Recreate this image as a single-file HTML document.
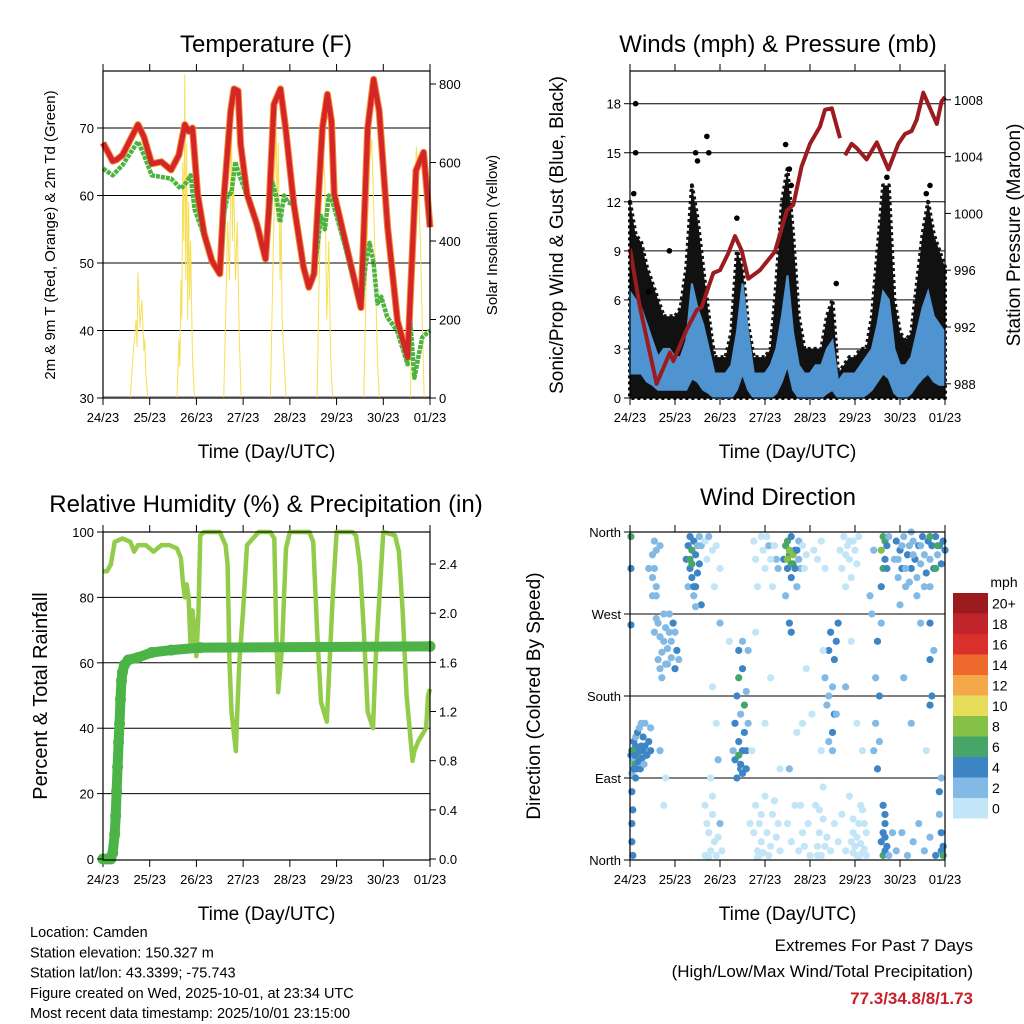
<!DOCTYPE html>
<html><head><meta charset="utf-8"><style>
html,body{margin:0;padding:0;background:#fff;width:1024px;height:1024px;overflow:hidden}
svg{display:block;font-family:"Liberation Sans",Arial,sans-serif}
</style></head><body>
<svg id="c" width="1024" height="1024" viewBox="0 0 1024 1024"></svg>
<script>
// ---------- DATA ----------
const dayLabels=["24/23","25/23","26/23","27/23","28/23","29/23","30/23","01/23"];
const tempHours=[0,5,7,10,18,21,25,30,35,39,42,44,46,48.6,52,56,60,62,65.6,67.3,69.4,70.7,74,79,83.5,85.3,87.8,91.2,93.8,98,103,105.8,108.4,112.7,115.3,117.4,118.8,125.6,132.5,136,139,141.9,146.2,151.3,156.5,160.8,164.7,168];
const tempValues=[67.8,65.1,65.3,66,70.5,68.7,64.7,65,63.8,66,70.5,69.5,70,60.2,54.3,50.3,48.4,59.3,72.6,75.8,75.5,67.6,60.2,55.8,50.6,58.2,73.5,75.8,70,58.7,49.4,46.4,48.4,70,75,71,60.2,51.8,43.4,70,77.2,72.5,55.3,41.4,36,63.7,66.4,55.3];
const dewHours=[0,5,10,18,21,25,35,40,43,45,47,52,56,60,62,64,66,68,70,74,79,83.5,85,87,89,91,93,95,98,103,105.8,108,110,112,114,116,118,125,132.5,135,137,139,141,143,146,151,156.5,158,160,162,164,168];
const dewValues=[64,63,64.5,68,66,63,62.5,61,62,63,58,54,50.3,48.4,57,60,60.5,65,63,60,55.8,50.6,56,62,60,56,60,59,58.7,49.4,46.4,48,52,57,55,60,59,51.8,43.4,50,53,50,44,45,42,40,35,41,33,36,39,40];
const solarHours=[0,14,15,16,17,17.5,18,19,20,21,21.5,22,23,38,39,39.5,40,40.5,41,41.5,42,42.5,43,43.5,44,44.5,45,46,47,62,63,64,65,66,66.5,67,68,69,70,71,86,87,88,89,89.5,90,91,91.5,92,94,110,111,112,113,114,115,116,117,118,134,135,136,137,138,139,140,141,142,158,159,160,161,162,163,164,165,168];
const solarValues=[0,0,80,140,200,130,320,180,250,120,150,60,0,0,150,80,300,200,600,400,825,300,650,200,500,250,400,100,0,0,200,450,300,720,400,600,300,450,150,0,0,250,500,700,450,650,300,500,200,0,0,300,500,640,550,200,400,100,0,0,250,450,600,660,500,300,100,0,0,300,500,640,560,400,200,0,0];

const presHours=[0,5.3,14.2,21.3,23.1,30.2,35.6,38.2,44.4,48,52.4,56,59.5,63.1,69.3,77.3,83.6,87.1,91.5,96,101.3,104,107.6,112];
const presValues=[997.5,993.4,988,990.2,989.6,991.8,993.2,993.4,995.8,996,997.2,998.4,997.4,995.4,996,997.3,1000.2,1000.6,1003.3,1004.9,1006.1,1007.3,1007.4,1005.3];
const pres2Hours=[114.7,118.2,120.9,126.2,131.6,137.8,143.1,146.7,150.2,152.9,156.4,163.6,166.2,168];
const pres2Values=[1004.1,1004.9,1004.6,1003.8,1005,1003.1,1004.9,1005.6,1005.8,1006.6,1008.5,1006.3,1007.9,1008.2];
const windHours=[0,3,6,9,12,15,18,21,24,27,30,33,36,39,42,45,48,51,54,57,60,63,66,69,72,75,78,81,84,87,90,93,96,99,102,105,108,111,114,117,120,123,126,129,132,135,138,141,144,147,150,153,156,159,162,165,168];
const speedHigh=[6.5,6,5.5,4.5,3.5,2.5,3,3,2.5,2.5,3.5,7,5.5,4.5,3,1.5,1.5,1.5,2,4,7,4,1.5,1.5,1.5,2,3,5,7.5,4,2,1.5,1.5,2,2,3,3.5,1,1.5,1.5,1.5,2,2.5,3,4.5,6.5,6,3,2,2,2.5,4,5.5,6.5,5,4.5,4];
const speedLow=[1.5,1.5,1.5,1,0.8,0.5,0.5,0.5,0.5,0.5,0.5,1.2,1,0.5,0.3,0,0,0,0,0.5,1.5,0.5,0,0,0,0,0.3,1,2,0.5,0,0,0,0,0,0.3,0.5,0,0,0,0,0,0.2,0.5,1,1.5,1.2,0.3,0,0,0.3,0.8,1.2,1.5,1,0.8,0.8];
const gustHigh=[12,10,9.5,8,7,6,5,5,5,5.5,8,13,11,8,5,2.5,2.5,2.5,4,9,8,4.5,2.5,2.5,2.5,3,7,12,14,10,5,3,3,3,3,5,6,1.5,2,2.5,2.5,3,3,5,9,13,13,6,4,3.5,4,7,10,12,10,9,8];
const gustOutliers=[[3,18],[3,15],[10,6.5],[21,9],[41,16],[42,15],[57,11],[83,15.5],[110,7],[137,13.5],[160,13],[2,12.5],[35,15],[36,14.5],[85,14],[86,13],[158,12.5]];

const rhHours=[0,2,4,6,10,14,16,18,22,26,30,34,38,40,41,42,43,44,45,46,47,48,49,50,52,56,60,63,64,65,66,68.3,69,70,72,74,80,86,88,89,90,92,93,94,96,106,108,110,112,115,116,118,120,128,130,132,134,136,138.7,140,142,144,150,152,154,156,159,160,162,164,166,167,168];
const rhValues=[88,88,90,97,98,97,94,96,96,94,96,96,95,92,85,80,84,80,65,76,70,62,75,99,100,100,100,96,90,60,45,33,45,60,76,96,100,100,98,70,51,65,80,95,100,100,97,70,48,42,55,80,100,100,99,90,70,45,40,60,80,100,99,94,75,50,30,33,36,38,40,50,52];
const rainHours=[0,2,4,5,6,6.5,7,7.5,8,8.5,9,9.5,10,11,13,18,25,35,50,168];
const rainValues=[0,0,0,0.05,0.2,0.35,0.55,0.75,0.95,1.1,1.3,1.45,1.52,1.58,1.62,1.64,1.68,1.7,1.72,1.73];

const dirPoints=[[0.5,115,4],[1,120,5],[1.5,110,3],[2,130,4],[2.5,105,6],[3,125,4],[3,135,3],[3.5,100,5],[4,115,7],[4,140,4],[4.5,108,5],[5,120,4],[5,145,3],[5.5,100,4],[6,125,5],[6,150,3],[6.5,112,4],[7,120,5],[7,135,4],[7.5,105,3],[8,125,4],[8,150,3],[9,115,4],[10,130,4],[11,120,4],[11,145,3],[1,95,3],[2,100,4],[3,90,4],[1,75,4],[1.5,55,4],[1,40,4],[1,20,4],[1.5,5,4],[0.5,355,7],[0.5,320,4],[1.5,120,6],[2.5,115,5],[0.5,258,4],
[12,290,2],[13,250,2],[14,265,2],[15,220,2],[15,260,2],[16,245,2],[16,210,3],[17,228,2],[17,200,3],[18,240,3],[18,270,2],[19,215,2],[19,255,3],[20,232,2],[21,250,2],[20,215,3],[22,222,3],[22,240,2],[24,210,4],[25,230,4],[24,250,3],[23,260,4],[26,220,2],[21,270,3],[13,320,2],[14,300,2],[14,340,2],[12,335,2],[16,345,3],[12,310,2],[13,350,2],[14,290,2],[16,120,2],[19,90,1],[18,60,1],[10,320,2],
[30,330,4],[31,345,5],[31,300,3],[32,355,4],[32,320,5],[33,340,6],[33,310,4],[34,350,5],[34,290,3],[35,335,4],[35,300,5],[36,345,3],[36,315,4],[37,355,3],[37,325,4],[38,345,3],[38,280,4],[32,330,7],[33,325,7],[34,300,4],[35,278,3],
[40,350,1],[41,330,1],[42,355,2],[44,340,1],[45,300,1],[46,345,1],[48,320,1],[40,60,1],[42,30,1],[43,10,1],[44,50,1],[45,20,1],[46,5,1],[48,40,2],[47,110,2],[43,90,1],[46,150,1],[40,5,1],[41,40,1],[42,3,1],[44,70,1],[47,25,1],[49,10,1],[48,260,2],[44,190,1],
[55,120,3],[56,150,4],[57,90,4],[57,180,5],[58,130,4],[58,200,6],[59,100,4],[59,160,3],[60,210,4],[60,120,5],[61,140,4],[61,100,3],[62,185,3],[62,100,4],[63,150,3],[63,230,3],[58,230,4],[60,240,2],[61,170,6],[64,40,1],[56,110,4],[59,105,5],[60,95,4],[62,120,4],[58,115,6],[53,240,1],
[66,350,1],[67,330,1],[68,300,1],[70,355,1],[71,340,1],[72,320,1],[74,345,2],[76,300,1],[78,330,2],[66,30,1],[67,60,1],[68,10,1],[69,40,1],[70,20,1],[72,70,1],[74,5,1],[76,50,1],[78,25,1],[65,120,1],[72,150,1],[75,200,1],[80,100,1],[67,250,1],[68,3,1],[69,5,1],[70,50,1],[71,8,1],[73,30,1],[75,15,1],[77,65,1],[79,40,1],[80,10,1],[73,355,1],[75,330,1],[77,345,1],[79,320,2],
[82,330,4],[83,345,7],[84,320,5],[84,350,6],[85,335,7],[86,310,4],[86,355,5],[87,325,6],[88,340,4],[89,300,3],[90,350,3],[91,320,2],[83,290,3],[84,40,1],[86,20,1],[88,60,1],[90,10,1],[92,30,1],[85,100,2],[89,140,1],[85,260,4],[86,250,4],[84,330,8],[85,340,8],[86,325,7],[87,335,8],[88,320,5],[89,340,5],[90,330,2],[92,345,1],[93,320,1],[94,335,1],[91,60,1],[93,15,1],[95,40,1],[96,5,1],[92,150,1],[94,210,1],
[104,200,2],[105,170,3],[106,230,4],[106,130,3],[107,250,4],[108,190,3],[108,140,4],[109,220,4],[109,160,4],[110,160,3],[111,260,4],[108,120,2],[110,240,4],[106,180,2],[100,15,1],[101,30,1],[102,5,1],[103,45,1],[104,15,1],[105,25,1],[107,10,1],[109,40,1],[99,60,1],[100,5,1],[101,55,1],[103,80,1],[98,340,1],[100,330,1],[102,350,1],[104,320,1],[97,160,1],[102,120,1],[103,230,1],
[112,340,1],[113,320,1],[114,355,1],[115,300,1],[116,345,1],[117,330,1],[118,310,1],[119,350,1],[120,340,1],[121,325,1],[122,355,1],[115,335,1],[117,350,1],[111,20,1],[113,50,1],[115,10,1],[117,70,1],[119,30,1],[121,5,1],[123,60,1],[125,40,1],[115,190,2],[118,240,1],[121,150,1],[124,120,1],[119,8,1],[120,15,1],[121,25,1],[122,3,1],[123,18,1],[124,8,1],[125,12,1],[126,30,1],[118,20,1],[119,45,1],[122,40,1],[124,55,1],[126,5,1],
[130,120,3],[131,150,3],[131,200,3],[132,100,4],[132,240,4],[133,130,3],[133,180,4],[134,260,3],[130,340,3],[128,290,3],[129,270,3],
[134,340,8],[135,355,7],[135,320,6],[136,350,7],[136,330,4],[134,300,4],[137,345,5],[137,320,4],[138,355,3],[134,20,4],[135,5,6],[135,30,4],[136,10,5],[136,50,4],[137,15,4],[136,40,4],[135,60,4],[136,25,4],[138,5,2],[140,30,2],[141,330,3],
[142,350,4],[143,310,3],[144,340,4],[145,320,4],[146,355,3],[147,300,3],[148,335,4],[149,345,3],[150,320,4],[151,350,3],[152,330,4],[153,310,3],[154,345,4],[155,325,3],[156,355,4],[157,335,3],[158,315,4],[159,350,5],[160,330,3],[161,345,4],[162,320,4],[163,355,5],[164,335,3],[165,345,4],[166,325,5],[167,350,4],[168,340,5],[143,330,2],[145,345,2],[147,320,2],[149,305,2],[151,335,2],[153,290,2],[155,345,2],[157,300,2],[150,360,2],[160,355,6],[164,345,7],[163,320,6],
[142,10,2],[145,30,3],[148,5,2],[151,20,3],[154,40,2],[157,10,3],[160,25,2],[163,5,4],[165,50,3],[167,15,4],[146,200,2],[150,150,2],[155,260,2],[158,120,1],[162,230,2],[166,90,2],[144,280,2],[160,300,3],[160,260,4],[160,220,4],[161,180,4],[160,170,4],[165,75,4],[166,30,5],[166,10,4],[167,5,6]];
const legendLabels=["20+","18","16","14","12","10","8","6","4","2","0"];
const legendColors=["#9b1b1e","#c1242b","#d9302b","#ee6a2c","#f5a849","#e6de5a","#86c147","#47a56a","#3e85c5","#82bae5","#c3e5f8"];

// ---------- HELPERS ----------
const S=document.getElementById('c');const NS='http://www.w3.org/2000/svg';
function mk(tag,a,parent){const e=document.createElementNS(NS,tag);for(const k in a)e.setAttribute(k,a[k]);(parent||S).appendChild(e);return e;}
function txt(s,x,y,size,anchor,extra){const e=mk('text',Object.assign({x:x,y:y,'font-size':size,'text-anchor':anchor||'middle',fill:'#000'},extra||{}));e.textContent=s;return e;}
function pts(hs,vs,fx,fy){return hs.map((h,i)=>fx(h).toFixed(1)+','+fy(vs[i]).toFixed(1)).join(' ');}
function speedColor(s){let i=Math.min(10,Math.floor(s/2));return legendColors[10-i];}

const L1=103,R1=430,L2=630,R2=945,T1=71,B1=398,T2=532,B2=860;
const xA=h=>L1+h*(R1-L1)/168, xB=h=>L2+h*(R2-L2)/168;

function frame(L,R,T,B,name,gridYs,xfun){
  let e;
  gridYs.forEach(y=>{e=mk('line',{x1:L,x2:R,y1:y,y2:y,stroke:'#000','stroke-width':1});
    
    });
  for(let d=0;d<8;d++){const x=xfun(d*24);
    e=mk('line',{x1:x,x2:x,y1:B,y2:B+7,stroke:'#000'});
    
    
    e=mk('line',{x1:x,x2:x,y1:T,y2:T-7,stroke:'#000'});
    
    
    e=txt(dayLabels[d],x,B+24,13);
    
    }
  e=txt('Time (Day/UTC)',(L+R)/2,B+60,19);
  
  
}
function border(L,R,T,B,name){const e=mk('rect',{x:L,y:T,width:R-L,height:B-T,fill:'none',stroke:'#000','stroke-width':1.2});
  
  }
function yTicks(vals,fy,x,side,fmt,name){vals.forEach(v=>{const y=fy(v);let e;
  e=mk('line',{x1:x,x2:x+(side<0?-6:6),y1:y,y2:y,stroke:'#000'});
  
  
  e=txt(fmt(v),x+(side<0?-9:9),y+5,13,side<0?'end':'start');
  
  });}
function vtitle(s,x,y,size,name){const e=txt(s,x,y,size,'middle',{transform:'rotate(-90 '+x+' '+y+')'});
  
  }
let e;

// ---------- PANEL 1 TEMPERATURE ----------
const yT=v=>B1-(v-30)*6.75, yS=v=>B1-v*0.3925;
e=txt('Temperature (F)',266,52,24);


frame(L1,R1,T1,B1,'temperature',[40,50,60,70].map(yT),xA);
e=mk('line',{x1:L1,x2:R1,y1:B1-1,y2:B1-1,stroke:'#aaa','stroke-width':2});


e=mk('polyline',{points:pts(solarHours,solarValues,xA,yS),fill:'none',stroke:'#f7df55','stroke-width':1});


e=mk('polyline',{points:pts(tempHours,tempValues,xA,yT),fill:'none',stroke:'#f28a2e','stroke-width':7,'stroke-linejoin':'round'});


e=mk('polyline',{points:pts(dewHours,dewValues,xA,yT),fill:'none',stroke:'#4db33f','stroke-width':4.5,'stroke-dasharray':'4 1','stroke-linejoin':'round'});


e=mk('polyline',{points:pts(tempHours,tempValues,xA,yT),fill:'none',stroke:'#d42528','stroke-width':5,'stroke-linejoin':'round'});


border(L1,R1,T1,B1,'temperature');
yTicks([30,40,50,60,70],yT,L1,-1,v=>v,'temperature-y-left');
yTicks([0,200,400,600,800],yS,R1,1,v=>v,'solar-y-right');
vtitle('2m & 9m T (Red, Orange) & 2m Td (Green)',55,235,15,'temperature-y-axis-title');
vtitle('Solar Insolation (Yellow)',497,235,15,'solar-y-axis-title');

// ---------- PANEL 2 WINDS ----------
const yW=v=>B1-v*16.35, yP=v=>B1-(v-987)*14.2;
e=txt('Winds (mph) & Pressure (mb)',778,52,24);


frame(L2,R2,T1,B1,'winds',[3,6,9,12,15,18].map(yW),xB);
const gp=windHours.map((h,i)=>xB(h).toFixed(1)+','+yW(gustHigh[i]).toFixed(1)).join(' ')+' '+xB(168)+','+yW(0)+' '+xB(0)+','+yW(0);
e=mk('polygon',{points:gp,fill:'#111',stroke:'#111','stroke-width':4,'stroke-linejoin':'round','stroke-dasharray':'3 3'});


const bp=windHours.map((h,i)=>xB(h).toFixed(1)+','+yW(speedHigh[i]).toFixed(1)).join(' ')+' '+windHours.slice().reverse().map((h,j)=>{const i=windHours.length-1-j;return xB(h).toFixed(1)+','+yW(speedLow[i]).toFixed(1);}).join(' ');
e=mk('polygon',{points:bp,fill:'#4f94d0',stroke:'#4f94d0','stroke-width':2});


gustOutliers.forEach(p=>{e=mk('circle',{cx:xB(p[0]),cy:yW(p[1]),r:2.8,fill:'#000'});
  
  });
e=mk('polyline',{points:pts(presHours,presValues,xB,yP),fill:'none',stroke:'#9b1b1e','stroke-width':4,'stroke-linejoin':'round'});


e=mk('polyline',{points:pts(pres2Hours,pres2Values,xB,yP),fill:'none',stroke:'#9b1b1e','stroke-width':4,'stroke-linejoin':'round'});


border(L2,R2,T1,B1,'winds');
yTicks([0,3,6,9,12,15,18],yW,L2,-1,v=>v,'winds-y-left');
yTicks([988,992,996,1000,1004,1008],yP,R2,1,v=>v,'pressure-y-right');
vtitle('Sonic/Prop Wind & Gust (Blue, Black)',563,235,19,'winds-y-axis-title');
vtitle('Station Pressure (Maroon)',1020,235,19,'pressure-y-axis-title');

// ---------- PANEL 3 RH ----------
const yR=v=>B2-1-v*3.27, yPr=v=>B2-1-v*122.9;
e=txt('Relative Humidity (%) & Precipitation (in)',266,512,24);


frame(L1,R1,T2,B2,'humidity',[20,40,60,80].map(yR),xA);
e=mk('polyline',{points:pts(rhHours,rhValues,xA,yR),fill:'none',stroke:'#93cc4a','stroke-width':4.5,'stroke-linejoin':'round'});


e=mk('polyline',{points:pts(rainHours,rainValues,xA,yPr),fill:'none',stroke:'#4cb347','stroke-width':10,'stroke-linejoin':'round','stroke-linecap':'round'});


rainHours.forEach((h,i)=>{e=mk('circle',{cx:xA(h),cy:yPr(rainValues[i]),r:5.5,fill:'#4cb347'});
  
  });
border(L1,R1,T2,B2,'humidity');
yTicks([0,20,40,60,80,100],yR,L1,-1,v=>v,'humidity-y-left');
yTicks([0,0.4,0.8,1.2,1.6,2.0,2.4],yPr,R1,1,v=>v.toFixed(1),'rainfall-y-right');
vtitle('Percent & Total Rainfall',47,696,20,'humidity-y-axis-title');

// ---------- PANEL 4 WIND DIRECTION ----------
const yD=v=>B2-v*(B2-T2)/360;
e=txt('Wind Direction',778,505,24);


frame(L2,R2,T2,B2,'direction',[90,180,270,360].map(yD),xB);
dirPoints.forEach(p=>{e=mk('circle',{cx:xB(p[0]),cy:yD(p[1]),r:3.6,fill:speedColor(p[2])});
  
  });
border(L2,R2,T2,B2,'direction');
yTicks([0,90,180,270,360],yD,L2,-1,v=>['North','East','South','West','North'][v/90],'direction-y');
vtitle('Direction (Colored By Speed)',540,696,19,'direction-y-axis-title');
e=txt('mph',1004,587,14);


legendColors.forEach((c,i)=>{const y=593+i*20.5;
  e=mk('rect',{x:953,y:y,width:35,height:20.5,fill:c});
  
  
  e=txt(legendLabels[i],992,y+15.5,14,'start');
  
  });

// ---------- FOOTER ----------
['Location: Camden','Station elevation: 150.327 m','Station lat/lon: 43.3399; -75.743','Figure created on Wed, 2025-10-01, at 23:34 UTC','Most recent data timestamp: 2025/10/01 23:15:00'].forEach((s,i)=>{
  e=txt(s,30,937+i*20.3,14.5,'start');
  
  });
e=txt('Extremes For Past 7 Days',973,951,17,'end');


e=txt('(High/Low/Max Wind/Total Precipitation)',973,977,17,'end');


e=txt('77.3/34.8/8/1.73',973,1004,17,'end',{fill:'#c8202a','font-weight':'bold'});


</script>
</body></html>
